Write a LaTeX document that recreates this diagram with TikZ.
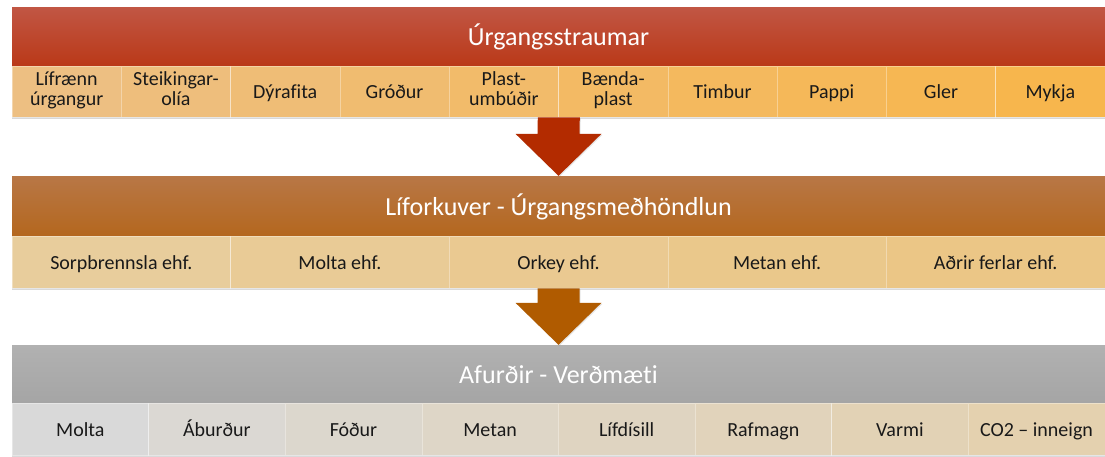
\documentclass[tikz,border=0pt]{standalone}
\usepackage{fontspec}
\setmainfont{Carlito}[Ligatures=NoCommon]
\usetikzlibrary{calc,shadows}
\definecolor{StreamTop}{RGB}{193,86,68}
\definecolor{StreamBottom}{RGB}{186,57,24}
\definecolor{StreamL}{RGB}{237,191,130}
\definecolor{StreamR}{RGB}{247,182,77}
\definecolor{PlantTop}{RGB}{184,119,70}
\definecolor{PlantBottom}{RGB}{180,103,30}
\definecolor{PlantL}{RGB}{232,205,156}
\definecolor{PlantR}{RGB}{235,198,134}
\definecolor{ProductTop}{RGB}{177,177,177}
\definecolor{ProductBottom}{RGB}{165,165,165}
\definecolor{ProductL}{RGB}{217,217,217}
\definecolor{ProductR}{RGB}{228,209,175}
\definecolor{ArrowRed}{RGB}{179,43,0}
\definecolor{ArrowBrown}{RGB}{176,91,0}
\definecolor{TextDark}{RGB}{25,25,25}
% struts that keep the text lines level
\newcommand{\TopStrut}[1]{\rule{0pt}{#1}}
\newcommand{\BottomStrut}[1]{\rule[-#1]{0pt}{#1}}
\tikzset{%
	% Style of the title bar
	Header/.style={rectangle,inner sep=0,minimum width=1093pt,
		font=\fontsize{26}{30}\selectfont,text=white,
		execute at begin node=\TopStrut{25pt},execute at end node=\BottomStrut{7pt},
		drop shadow={opacity=0.25,shadow xshift=0pt,shadow yshift=-2pt}},
	% Style of the cells below a title bar
	Cell/.style={rectangle,inner sep=0,align=center,text=TextDark,
		font=\fontsize{20}{20}\selectfont,draw=white,draw opacity=0.35,line width=0.6pt,
		execute at begin node=\TopStrut{19.5pt},execute at end node=\BottomStrut{5pt},
		drop shadow={opacity=0.3,shadow xshift=0pt,shadow yshift=-2pt}},
	% Style of the big arrows
	FlowArrow/.style={drop shadow={opacity=0.2,shadow xshift=1pt,shadow yshift=-1pt}},
}
% Big block arrow from the bottom of one bar to the top of the next
\newcommand{\BlockArrow}[3]{%
	\fill[FlowArrow,#3] ($(#1)+(-21,0)$) -- ($(#1)+(21,0)$) -- ($(#2)+(21,-42)$)
		-- ($(#2)+(43,-42)$) -- (#2) -- ($(#2)+(-43,-42)$) -- ($(#2)+(-21,-42)$) -- cycle;}

\begin{document}
\begin{tikzpicture}[x=1pt,y=-1pt]
\useasboundingbox (0,0) rectangle (1105,456);

%~~~~~~~~~~~~~~~~~~~~~~~~~~~~~~~~~~~~~~~~~~~~~~~~~~
% Waste streams
%~~~~~~~~~~~~~~~~~~~~~~~~~~~~~~~~~~~~~~~~~~~~~~~~~~
\node[Header,minimum height=59pt,top color=StreamTop,bottom color=StreamBottom] (Streams) at (558.5, 36.5) {Úrgangsstraumar};

\foreach \Label [count=\i] in {{Lífrænn\\úrgangur}, {Steikingar-\\olía}, Dýrafita, Gróður, {Plast-\\umbúðir}, {Bænda-\\plast}, Timbur, Pappi, Gler, Mykja}{
	\pgfmathtruncatemacro\Mix{100-(\i-1)*100/9}
	\node[Cell,minimum width=109.3pt,minimum height=51pt,fill=StreamL!\Mix!StreamR] (S\i) at ({12+109.3*(\i-0.5)}, 91.5) {\Label};
}

%~~~~~~~~~~~~~~~~~~~~~~~~~~~~~~~~~~~~~~~~~~~~~~~~~~
% Bioenergy plant
%~~~~~~~~~~~~~~~~~~~~~~~~~~~~~~~~~~~~~~~~~~~~~~~~~~
\node[Header,minimum height=60pt,top color=PlantTop,bottom color=PlantBottom] (Plants) at (558.5, 206) {Líforkuver - Úrgangsmeðhöndlun};

\foreach \Label [count=\i] in {Sorpbrennsla ehf., Molta ehf., Orkey ehf., Metan ehf., Aðrir ferlar ehf.}{
	\pgfmathtruncatemacro\Mix{100-(\i-1)*100/4}
	\node[Cell,minimum width=218.6pt,minimum height=52pt,fill=PlantL!\Mix!PlantR] (M\i) at ({12+218.6*(\i-0.5)}, 262) {\Label};
}

%~~~~~~~~~~~~~~~~~~~~~~~~~~~~~~~~~~~~~~~~~~~~~~~~~~
% Products
%~~~~~~~~~~~~~~~~~~~~~~~~~~~~~~~~~~~~~~~~~~~~~~~~~~
\node[Header,minimum height=58pt,top color=ProductTop,bottom color=ProductBottom] (Products) at (558.5, 374) {Afurðir - Verðmæti};

\foreach \Label [count=\i] in {Molta, Áburður, Fóður, Metan, Lífdísill, Rafmagn, Varmi, CO2 – inneign}{
	\pgfmathtruncatemacro\Mix{100-(\i-1)*100/7}
	\node[Cell,minimum width=136.6pt,minimum height=52pt,fill=ProductL!\Mix!ProductR] (P\i) at ({12+136.6*(\i-0.5)}, 429) {\Label};
}

%~~~~~~~~~~~~~~~~~~~~~~~~~~~~~~~~~~~~~~~~~~~~~~~~~~
% Arrows
%~~~~~~~~~~~~~~~~~~~~~~~~~~~~~~~~~~~~~~~~~~~~~~~~~~
\BlockArrow{S5.south east}{Plants.north}{ArrowRed}
\BlockArrow{M3.south}{Products.north}{ArrowBrown}

\end{tikzpicture}
\end{document}
